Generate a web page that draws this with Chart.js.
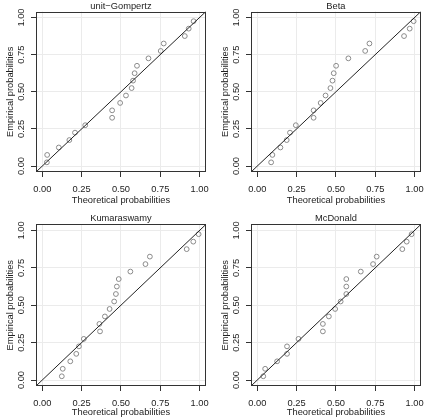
<!DOCTYPE html>
<html>
<head>
<meta charset="utf-8">
<script src="https://cdn.jsdelivr.net/npm/chart.js@4.4.1/dist/chart.umd.min.js"></script>
<style>
  html, body { margin: 0; padding: 0; background: #fff; }
  #wrap { position: relative; width: 431px; height: 418px; }
  canvas { position: absolute; }
</style>
</head>
<body>
<div id="wrap">
  <canvas id="c0" width="216" height="209" style="left:0;top:0"></canvas>
  <canvas id="c1" width="216" height="209" style="left:215px;top:0"></canvas>
  <canvas id="c2" width="216" height="209" style="left:0;top:209px"></canvas>
  <canvas id="c3" width="216" height="209" style="left:215px;top:209px"></canvas>
</div>
<script>
// empirical probabilities, same for every panel
const empirical = [0.025, 0.075, 0.125, 0.175, 0.225, 0.275, 0.325, 0.375, 0.425, 0.475,
                   0.525, 0.575, 0.625, 0.675, 0.725, 0.775, 0.825, 0.875, 0.925, 0.975];

// theoretical probabilities
const theoGompertz = [0.029, 0.031, 0.105, 0.172, 0.208, 0.273, 0.444, 0.444, 0.495, 0.532,
                      0.568, 0.577, 0.587, 0.602, 0.675, 0.753, 0.772, 0.906, 0.931, 0.962];
const theoBeta = [0.088, 0.096, 0.147, 0.187, 0.208, 0.245, 0.358, 0.358, 0.403, 0.434,
                  0.465, 0.478, 0.486, 0.501, 0.579, 0.686, 0.713, 0.933, 0.969, 0.994];
const theoKumaraswamy = [0.124, 0.130, 0.178, 0.216, 0.233, 0.264, 0.367, 0.363, 0.398, 0.428,
                         0.457, 0.468, 0.474, 0.486, 0.560, 0.656, 0.684, 0.918, 0.960, 0.994];
const theoMcDonald = [0.038, 0.050, 0.126, 0.189, 0.189, 0.262, 0.417, 0.417, 0.455, 0.495,
                      0.530, 0.566, 0.566, 0.566, 0.658, 0.736, 0.759, 0.922, 0.950, 0.981];

const panelTitles = ['unit\u2212Gompertz', 'Beta', 'Kumaraswamy', 'McDonald'];
const tickValues = [0, 0.25, 0.5, 0.75, 1];
const axisMin = -0.04;
const axisMax = 1.04;

const FONT = 'Liberation Sans, Arial, sans-serif';
const TEXT = '#222';

// box around the plot region
const boxPlugin = {
    id: 'box',
    afterDraw(chart) {
        const a = chart.chartArea;
        const ctx = chart.ctx;
        ctx.save();
        ctx.strokeStyle = '#333';
        ctx.lineWidth = 1;
        ctx.strokeRect(Math.round(a.left) + 0.5, Math.round(a.top) + 0.5,
            Math.round(a.right - a.left) - 1, Math.round(a.bottom - a.top) - 1);
        ctx.restore();
    }
};

// y tick labels turned like R does it (parallel to the axis)
const yLabelPlugin = {
    id: 'ylabels',
    afterDraw(chart) {
        const scale = chart.scales.y;
        const ctx = chart.ctx;
        ctx.save();
        ctx.font = '9.3px ' + FONT;
        ctx.fillStyle = TEXT;
        ctx.textAlign = 'center';
        ctx.textBaseline = 'middle';
        scale.ticks.forEach((t) => {
            const py = scale.getPixelForValue(t.value);
            ctx.save();
            ctx.translate(21, py);
            ctx.rotate(-Math.PI / 2);
            ctx.fillText(t.value.toFixed(2), 0, 0);
            ctx.restore();
        });
        ctx.restore();
    }
};

function makePanel(canvasId, title, theo, isBottom) {
    const points = theo.map((x, i) => ({x: x, y: empirical[i]}));
    const diag = [{x: axisMin, y: axisMin}, {x: axisMax, y: axisMax}];
    const setTicks = (scale) => {
        scale.ticks = tickValues.map((v) => ({value: v}));
    };
    return new Chart(document.getElementById(canvasId), {
        type: 'scatter',
        data: {
            datasets: [{
                data: points,
                showLine: false,
                pointStyle: 'circle',
                pointRadius: 2.4,
                pointBorderWidth: 1,
                backgroundColor: 'rgba(0,0,0,0)',
                borderColor: '#8a8a8a',
                order: 1
            }, {
                type: 'line',
                data: diag,
                borderColor: '#222',
                borderWidth: 1,
                pointRadius: 0,
                fill: false,
                order: 0
            }]
        },
        options: {
            responsive: false,
            animation: false,
            events: [],
            layout: {
                padding: {left: 0, right: 8.5, top: isBottom ? 2.5 : 0.4, bottom: 0}
            },
            plugins: {
                legend: {display: false},
                tooltip: {enabled: false},
                title: {
                    display: true,
                    fullSize: false,
                    text: title,
                    color: TEXT,
                    font: {family: FONT, size: 9.3, weight: 'normal', lineHeight: 1.2},
                    padding: {top: isBottom ? 1.8 : 0, bottom: 0}
                }
            },
            scales: {
                x: {
                    type: 'linear',
                    min: axisMin,
                    max: axisMax,
                    afterBuildTicks: setTicks,
                    afterFit: (s) => { s.height = isBottom ? 32 : 37; },
                    border: {display: false},
                    grid: {color: '#ebebeb', tickColor: '#333', tickLength: 5, drawTicks: true},
                    ticks: {
                        color: TEXT,
                        font: {family: FONT, size: 9.3},
                        padding: 7,
                        maxRotation: 0,
                        callback: (v) => v.toFixed(2)
                    },
                    title: {
                        display: true,
                        text: 'Theoretical probabilities',
                        color: TEXT,
                        font: {family: FONT, size: 9.3, lineHeight: 1.2},
                        padding: {top: 0, bottom: isBottom ? 0 : 3.4}
                    }
                },
                y: {
                    type: 'linear',
                    min: axisMin,
                    max: axisMax,
                    afterBuildTicks: setTicks,
                    afterFit: (s) => { s.width = 36; },
                    border: {display: false},
                    grid: {color: '#ebebeb', tickColor: '#333', tickLength: 5, drawTicks: true},
                    ticks: {
                        color: 'rgba(0,0,0,0)',
                        font: {family: FONT, size: 9.3},
                        callback: (v) => v.toFixed(2)
                    },
                    title: {
                        display: true,
                        text: 'Empirical probabilities',
                        color: TEXT,
                        font: {family: FONT, size: 9.3, lineHeight: 1.2},
                        padding: {top: 4.4, bottom: 0}
                    }
                }
            }
        },
        plugins: [boxPlugin, yLabelPlugin]
    });
}

makePanel('c0', panelTitles[0], theoGompertz, false);
makePanel('c1', panelTitles[1], theoBeta, false);
makePanel('c2', panelTitles[2], theoKumaraswamy, true);
makePanel('c3', panelTitles[3], theoMcDonald, true);
</script>
</body>
</html>
